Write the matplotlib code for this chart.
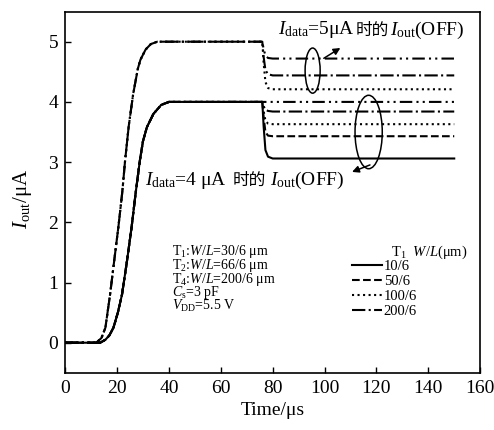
import matplotlib
matplotlib.use('Agg')
import matplotlib.pyplot as plt
from matplotlib.patches import Ellipse

plt.rcParams['font.family'] = ['Liberation Serif', 'Noto Sans CJK SC']
plt.rcParams['mathtext.fontset'] = 'custom'
plt.rcParams['mathtext.rm'] = 'Liberation Serif'
plt.rcParams['mathtext.it'] = 'Liberation Serif:italic'

# rise part (us, uA)
t_rise5 = [0, 12, 14, 15.5, 17.3, 19, 20.5, 22, 23.1, 24.5, 26.2, 28, 29, 31, 33, 35.5, 40]
v_rise5 = [0, 0, 0.08, 0.25, 0.8, 1.4, 1.92, 2.5, 3.03, 3.6, 4.13, 4.55, 4.7, 4.87, 4.96, 5.0, 5.0]
t_rise4 = [0, 13.5, 15.5, 17, 18.6, 20.3, 21.9, 23.8, 25.6, 27.2, 28.8, 30, 31.5, 34, 37, 40]
v_rise4 = [0, 0, 0.05, 0.12, 0.25, 0.5, 0.8, 1.35, 1.92, 2.5, 3.03, 3.35, 3.58, 3.8, 3.95, 4.0]

# fall part after switching off
t_fall = [76, 76.5, 77.2, 78.2, 80, 150]
fall5 = [[5.0, 4.88, 4.77, 4.73, 4.72, 4.72],
         [5.0, 4.75, 4.53, 4.46, 4.44, 4.44],
         [5.0, 4.65, 4.33, 4.23, 4.21, 4.21]]
fall4 = [[4.0, 4.0, 4.0, 4.0, 4.0, 4.0],
         [4.0, 3.93, 3.87, 3.85, 3.84, 3.84],
         [4.0, 3.85, 3.69, 3.64, 3.63, 3.63],
         [4.0, 3.75, 3.50, 3.44, 3.43, 3.43],
         [4.0, 3.6, 3.2, 3.09, 3.06, 3.06]]
styles5 = [(0, (6, 2, 1, 2, 1, 2)), '-.', ':']
styles4 = [(0, (6, 2, 1, 2, 1, 2)), '-.', ':', '--', '-']

leg_labels = ['10/6', '50/6', '100/6', '200/6']
notes = ['T$_1$:$W/L$=30/6 μm', 'T$_2$:$W/L$=66/6 μm', 'T$_4$:$W/L$=200/6 μm',
         '$C_{\\rm s}$=3 pF', '$V_{\\rm DD}$=5.5 V']

fig = plt.figure(figsize=(4.94, 4.3), dpi=100)
ax = fig.add_axes([0.132, 0.133, 0.840, 0.840])

for vals, ls in zip(fall5, styles5):
    ax.plot(t_rise5 + t_fall, v_rise5 + vals, color='black', lw=1.5, ls=ls)
lines4 = {}
for vals, ls in zip(fall4, styles4):
    ln, = ax.plot(t_rise4 + t_fall, v_rise4 + vals, color='black', lw=1.5, ls=ls)
    lines4[str(ls)] = ln

ax.set_xlim(0, 160)
ax.set_ylim(-0.5, 5.5)
ax.set_xticks(range(0, 161, 20))
ax.set_yticks(range(0, 6))
ax.tick_params(direction='in', length=4, width=1, labelsize=14, top=False, right=False, pad=5)
for s in ax.spines.values():
    s.set_linewidth(1.2)
ax.set_xlabel('Time/μs', fontsize=14, labelpad=4)
ax.set_ylabel('$I_{\\rm out}$/μA', fontsize=15)
ax.yaxis.set_label_coords(-0.075, 0.48)

# annotations
ax.text(82, 5.12, '$I_{\\rm data}$=5μA', fontsize=14, va='baseline')
ax.text(111.9, 5.12, '时的', fontsize=12, va='baseline', family='Noto Sans CJK SC')
ax.text(125.4, 5.12, '$I_{\\rm out}$(OFF)', fontsize=14, va='baseline')
ax.text(30.8, 2.62, '$I_{\\rm data}$=4 μA', fontsize=14, va='baseline')
ax.text(64.6, 2.62, '时的', fontsize=12, va='baseline', family='Noto Sans CJK SC')
ax.text(78.8, 2.62, '$I_{\\rm out}$(OFF)', fontsize=14, va='baseline')

ax.add_patch(Ellipse((95.4, 4.52), 5.8, 0.75, fill=False, lw=1.1))
ax.add_patch(Ellipse((117, 3.5), 10.5, 1.22, fill=False, lw=1.1))
ax.annotate('', xy=(107, 4.92), xytext=(98.8, 4.7),
            arrowprops=dict(arrowstyle='-|>', color='black', lw=1.1, mutation_scale=10))
ax.annotate('', xy=(109.6, 2.82), xytext=(118.5, 2.97),
            arrowprops=dict(arrowstyle='-|>', color='black', lw=1.1, mutation_scale=10))

for i, n in enumerate(notes):
    ax.text(41, 1.45 - i * 0.225, n, fontsize=10, va='baseline')

ax.text(125.8, 1.45, 'T$_1$  $W/L$(μm)', fontsize=10.5, va='baseline')
handles = [lines4["-"], lines4["--"], lines4[":"], lines4["-."]]
ax.legend(handles, leg_labels, loc='upper left', bbox_to_anchor=(110.5, 1.38),
          bbox_transform=ax.transData, frameon=False, fontsize=10.5,
          handlelength=2.1, handletextpad=0.1, labelspacing=0.12, borderpad=0,
          borderaxespad=0)

fig.savefig('out.png', dpi=100)
